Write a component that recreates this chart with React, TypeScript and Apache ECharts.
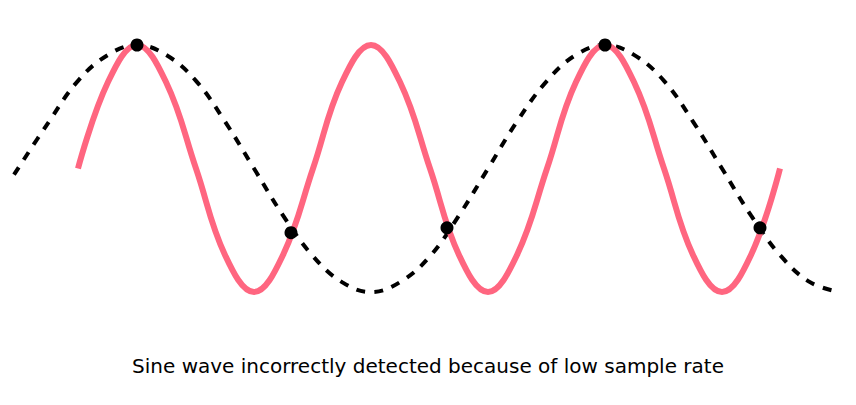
import { useEffect, useRef } from 'react';
import * as echarts from 'echarts';

// x positions in page pixels, y as amplitude (-1..1)
const signalX = [78, 108, 137, 166, 196, 225, 254, 283, 313, 342, 371, 400, 430, 459, 488, 517, 547, 576, 605, 634, 664, 693, 722, 751, 780];
const signalY = [0, 0.7, 1, 0.7, 0, -0.7, -1, -0.7, 0, 0.7, 1, 0.7, 0, -0.7, -1, -0.7, 0, 0.7, 1, 0.7, 0, -0.7, -1, -0.7, 0];

const aliasX = [14, 49, 78, 108, 137, 166, 196, 225, 254, 283, 313, 342, 371, 400, 430, 459, 488, 517, 547, 576, 605, 634, 664, 693, 722, 751, 781, 810, 839];
const aliasY = [-0.05, 0.38, 0.71, 0.92, 1, 0.92, 0.71, 0.38, 0, -0.38, -0.71, -0.92, -1, -0.92, -0.71, -0.38, 0, 0.38, 0.71, 0.92, 1, 0.92, 0.71, 0.38, 0, -0.38, -0.71, -0.92, -1];

const sampleX = [137, 291, 447, 605, 760];
const sampleY = [1, -0.52, -0.48, 1, -0.48];

const caption = 'Sine wave incorrectly detected because of low sample rate';

export default function App() {
  const el = useRef<HTMLDivElement>(null);

  useEffect(() => {
    if (!el.current) return;
    const chart = echarts.init(el.current, undefined, { renderer: 'svg' });
    chart.setOption({
      animation: false,
      title: {
        text: caption,
        left: 'center',
        top: 343,
        textStyle: { fontFamily: 'DejaVu Sans', fontSize: 20, fontWeight: 'normal', color: '#000' },
      },
      grid: { left: 0, right: 0, top: 37, bottom: 105 },
      xAxis: { type: 'value', min: 8, max: 848, show: false },
      yAxis: { type: 'value', min: -1, max: 1, show: false },
      series: [
        {
          type: 'line',
          data: aliasX.map((x, i) => [x, aliasY[i]]),
          smooth: 0.4,
          showSymbol: false,
          lineStyle: { color: '#000', width: 4, type: [9, 9] },
          z: 2,
        },
        {
          type: 'line',
          data: signalX.map((x, i) => [x, signalY[i]]),
          smooth: 0.4,
          showSymbol: false,
          lineStyle: { color: '#FF6680', width: 6 },
          z: 3,
        },
        {
          type: 'scatter',
          data: sampleX.map((x, i) => [x, sampleY[i]]),
          symbolSize: 13,
          itemStyle: { color: '#000', opacity: 1 },
          z: 4,
        },
      ],
    });
    return () => chart.dispose();
  }, []);

  return <div ref={el} style={{ width: 840, height: 389 }} />;
}
